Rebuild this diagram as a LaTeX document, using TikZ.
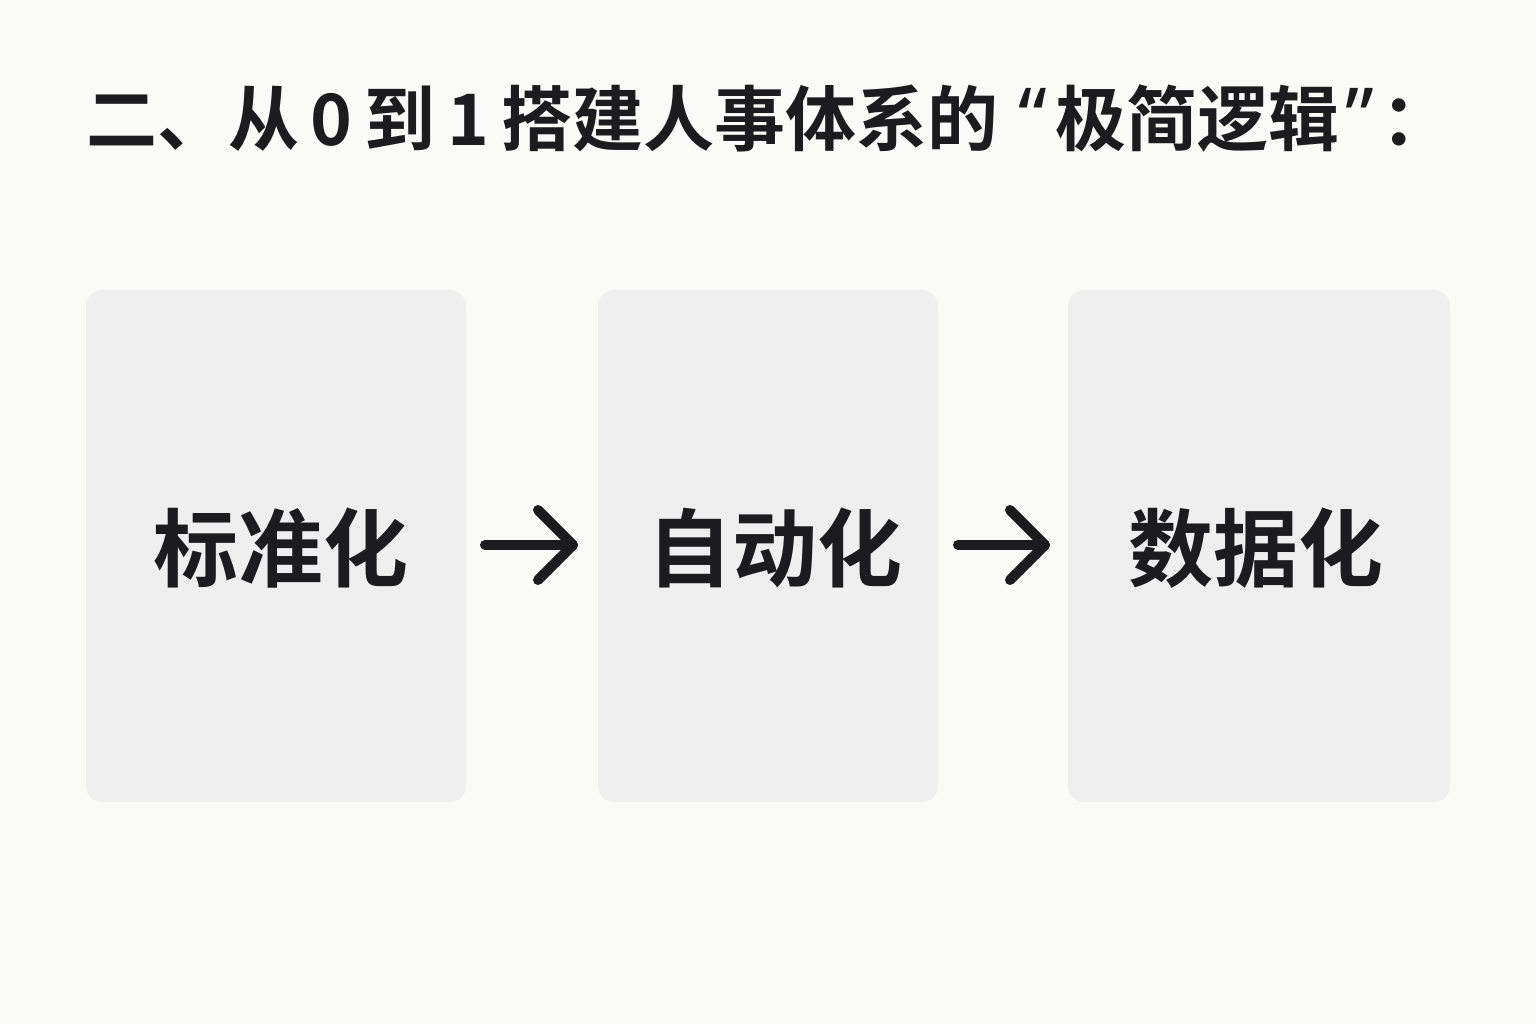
\documentclass[tikz,border=0pt]{standalone}
\usepackage{fontspec}
\newfontfamily\cjkb{Noto Sans CJK SC Bold}
\newfontfamily\latb{Noto Sans}
\definecolor{bg}{HTML}{FAFAF8}
\definecolor{card}{HTML}{EFEFEF}
\definecolor{ink}{HTML}{1C1C1E}
\tikzset{
  cardbox/.style={fill=card, draw=none, rounded corners=16pt, inner sep=0pt},
  cardtext/.style={text=ink, font=\cjkb\fontsize{85}{85}\selectfont, inner sep=0pt},
  flowarrow/.style={draw=ink, line width=10pt, line cap=round, line join=round},
}
\newcommand{\qmark}[1]{{\latb\bfseries\fontsize{80}{80}\selectfont #1}}
\begin{document}
\begin{tikzpicture}[x=1pt,y=-1pt]
\path[fill=bg] (0,0) rectangle (1536,1024);
\useasboundingbox (0,0) rectangle (1536,1024);
\node[anchor=base west, text=ink, font=\cjkb\fontsize{71}{71}\selectfont, inner sep=0pt] (title) at (86,146) {二、从\,0\,到\,1\,搭建人事体系的\hspace{20pt}\qmark{“}\hspace{8pt}极简逻辑\hspace{6pt}\qmark{”}\hspace{8pt}：};
\path[cardbox] (86,290) rectangle (466,802);
\path[cardbox] (598,290) rectangle (938,802);
\path[cardbox] (1068,290) rectangle (1450,802);
\node[cardtext] (a) at (281,548) {标准化};
\node[cardtext] (b) at (775,548) {自动化};
\node[cardtext] (c) at (1256,548) {数据化};
\coordinate (a1) at (485,545);
\coordinate (a2) at (573,545);
\draw[flowarrow] (a1) -- (a2);
\draw[flowarrow] (538,510) -- (a2) -- (538,580);
\coordinate (b1) at (958,545);
\coordinate (b2) at (1045,545);
\draw[flowarrow] (b1) -- (b2);
\draw[flowarrow] (1010,510) -- (b2) -- (1010,580);
\end{tikzpicture}
\end{document}
